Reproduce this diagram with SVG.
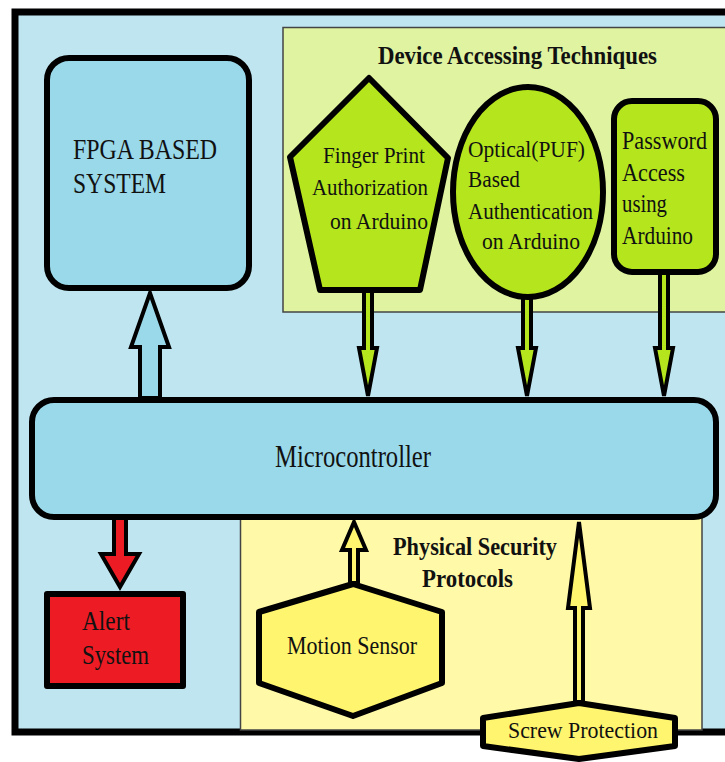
<svg xmlns="http://www.w3.org/2000/svg" width="725" height="762" viewBox="0 0 725 762" font-family="'Liberation Serif', 'Times New Roman', serif">
<style>
.b{font-weight:bold}
text{fill:#111}
.node{stroke:#000;stroke-width:6;stroke-linejoin:round}
.arr{stroke:#000;stroke-width:4;stroke-linejoin:miter}
</style>
<rect x="0" y="0" width="725" height="762" fill="#fff"/>
<g id="frame">
<rect x="15" y="12" width="730" height="720" fill="#BFE6F0" stroke="#000" stroke-width="7"/>
</g>
<g id="panel-device">
<rect x="283" y="27.5" width="445" height="284.5" fill="#DFF3A0" stroke="#444" stroke-width="1.5"/>
<text class="b" x="378" y="64" font-size="25" textLength="279" lengthAdjust="spacingAndGlyphs">Device Accessing Techniques</text>
</g>
<g id="panel-physical">
<rect x="240.5" y="517" width="461.5" height="213" fill="#FFF9A8" stroke="#444" stroke-width="1.5"/>
<text class="b" x="393" y="555" font-size="25" textLength="164" lengthAdjust="spacingAndGlyphs">Physical Security</text>
<text class="b" x="422" y="587" font-size="25" textLength="91" lengthAdjust="spacingAndGlyphs">Protocols</text>
</g>
<g id="connectors">
<polygon class="arr" fill="#99D9EA" points="140,398 140,347 131,347 150,293 169,347 160,347 160,398" stroke-width="5"/>
<polygon class="arr" fill="#B5E61D" points="364,290 364,348 359,348 368,396 377,348 372,348 372,290"/>
<polygon class="arr" fill="#B5E61D" points="523,297 523,348 518,348 527,396 536,348 531,348 531,297"/>
<polygon class="arr" fill="#B5E61D" points="660,273 660,348 655,348 664,396 673,348 668,348 668,273"/>
<polygon class="arr" fill="#ED1C24" points="114,517 114,554 101,554 120,587 139,554 126,554 126,517" stroke-width="5"/>
<polygon class="arr" fill="#FFF56E" points="350,583 350,550 342,550 354,522 366,550 358,550 358,583"/>
<polygon class="arr" fill="#FFF56E" points="575,702 575,608 568,608 579,522 590,608 583,608 583,702"/>
</g>
<g id="fpga">
<rect class="node" x="47" y="58" width="202" height="230" rx="22" fill="#99D9EA"/>
<text x="73" y="159" font-size="30" textLength="144" lengthAdjust="spacingAndGlyphs">FPGA BASED</text>
<text x="73" y="193" font-size="30" textLength="93" lengthAdjust="spacingAndGlyphs">SYSTEM</text>
</g>
<g id="fingerprint">
<polygon class="node" points="369,78 448,158 420,290 320,290 290,157" fill="#B5E61D"/>
<text x="323" y="163" font-size="24" textLength="102" lengthAdjust="spacingAndGlyphs">Finger Print</text>
<text x="312" y="195" font-size="24" textLength="116" lengthAdjust="spacingAndGlyphs">Authorization</text>
<text x="330" y="229" font-size="24" textLength="98" lengthAdjust="spacingAndGlyphs">on Arduino</text>
</g>
<g id="optical">
<ellipse class="node" cx="528" cy="192" rx="75" ry="105" fill="#B5E61D"/>
<text x="468" y="157" font-size="24" textLength="117" lengthAdjust="spacingAndGlyphs">Optical(PUF)</text>
<text x="468" y="187" font-size="24" textLength="52" lengthAdjust="spacingAndGlyphs">Based</text>
<text x="468" y="219" font-size="24" textLength="125" lengthAdjust="spacingAndGlyphs">Authentication</text>
<text x="482" y="249" font-size="24" textLength="98" lengthAdjust="spacingAndGlyphs">on Arduino</text>
</g>
<g id="password">
<rect class="node" x="614" y="101" width="102" height="171" rx="18" fill="#B5E61D"/>
<text x="622" y="149" font-size="25" textLength="85" lengthAdjust="spacingAndGlyphs">Password</text>
<text x="622" y="181" font-size="25" textLength="63" lengthAdjust="spacingAndGlyphs">Access</text>
<text x="622" y="212" font-size="25" textLength="45" lengthAdjust="spacingAndGlyphs">using</text>
<text x="622" y="244" font-size="25" textLength="71" lengthAdjust="spacingAndGlyphs">Arduino</text>
</g>
<g id="microcontroller">
<rect class="node" x="32" y="400" width="684" height="117" rx="22" fill="#99D9EA"/>
<text x="275" y="467" font-size="31" textLength="156" lengthAdjust="spacingAndGlyphs">Microcontroller</text>
</g>
<g id="alert">
<rect class="node" x="47" y="594" width="136" height="92" fill="#ED1C24" stroke-linejoin="miter"/>
<text x="82" y="630" font-size="27" textLength="48" lengthAdjust="spacingAndGlyphs">Alert</text>
<text x="82" y="664" font-size="27" textLength="67" lengthAdjust="spacingAndGlyphs">System</text>
</g>
<g id="motion">
<polygon class="node" points="353,584 442,612 442,683 353,716 259,683 259,612" fill="#FFF56E"/>
<text x="287" y="654" font-size="26" textLength="130" lengthAdjust="spacingAndGlyphs">Motion Sensor</text>
</g>
<g id="screw">
<polygon class="node" points="579,703 675,718 675,746 579,759 483,746 483,718" fill="#FFF56E"/>
<text x="508" y="738" font-size="24" textLength="150" lengthAdjust="spacingAndGlyphs">Screw Protection</text>
</g>
</svg>
